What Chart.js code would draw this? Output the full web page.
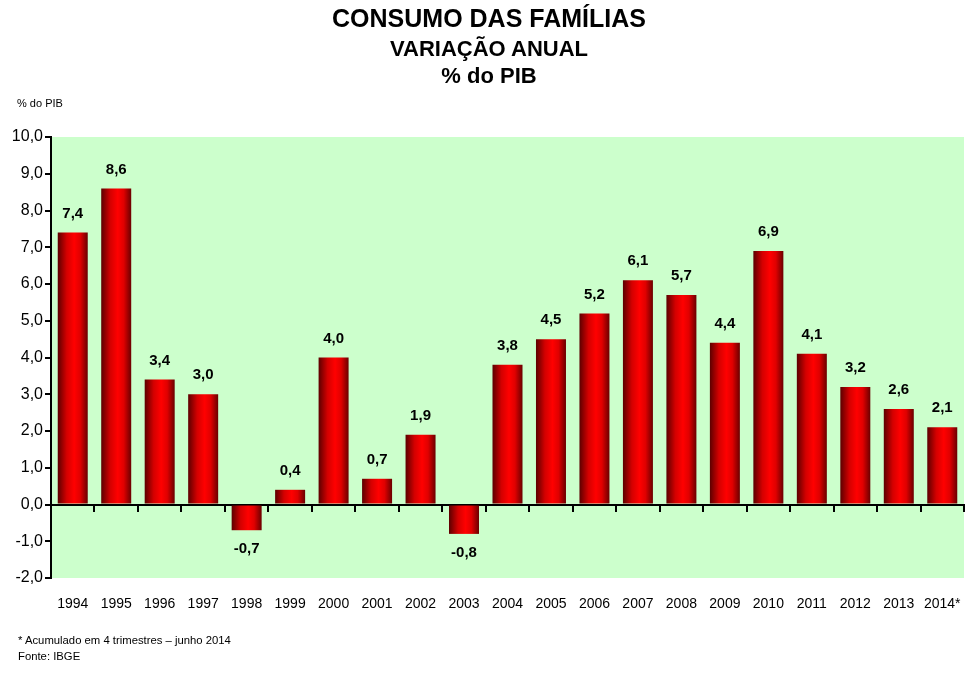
<!DOCTYPE html>
<html>
<head>
<meta charset="utf-8">
<script src="https://cdn.jsdelivr.net/npm/chart.js@4.4.1/dist/chart.umd.min.js"></script>
<style>
  body { margin: 0; background: #fff; }
  #wrap { position: relative; width: 972px; height: 682px; font-family: "Liberation Sans", Arial, sans-serif; }
  .t { position: absolute; left: 0; width: 972px; text-align: center; font-weight: bold; color: #000; }
  .s { position: absolute; color: #000; white-space: nowrap; }
</style>
</head>
<body>
<div id="wrap">
  <canvas id="myChart" width="972" height="682"></canvas>
  <div class="t" style="top:4px; font-size:25px; left:3px;">CONSUMO DAS FAMÍLIAS</div>
  <div class="t" style="top:36px; font-size:22px; left:3px;">VARIAÇÃO ANUAL</div>
  <div class="t" style="top:63px; font-size:22px; left:3px;">% do PIB</div>
  <div class="s" style="left:17px; top:97px; font-size:11px;">% do PIB</div>
  <div class="s" style="left:18px; top:634px; font-size:11.3px;">* Acumulado em 4 trimestres – junho 2014</div>
  <div class="s" style="left:18px; top:650px; font-size:11.3px;">Fonte: IBGE</div>
</div>
<script>
var years = ['1994', '1995', '1996', '1997', '1998', '1999', '2000', '2001', '2002', '2003', '2004',
             '2005', '2006', '2007', '2008', '2009', '2010', '2011', '2012', '2013', '2014*'];
var consumo = [7.4, 8.6, 3.4, 3.0, -0.7, 0.4, 4.0, 0.7, 1.9, -0.8, 3.8,
               4.5, 5.2, 6.1, 5.7, 4.4, 6.9, 4.1, 3.2, 2.6, 2.1];
var yMin = -2;
var yMax = 10;

function fmt(v) {
    return v.toFixed(1).replace('.', ',');
}

// gradiente horizontal em cada barra
function barColor(context) {
    var chart = context.chart;
    if (!chart.chartArea) return '#e00000';
    var x = chart.scales.x;
    var w = (x.getPixelForValue(1) - x.getPixelForValue(0)) * 0.69;
    var cx = x.getPixelForValue(context.dataIndex);
    var g = chart.ctx.createLinearGradient(cx - w / 2, 0, cx + w / 2, 0);
    g.addColorStop(0, '#5c0000');
    g.addColorStop(0.3, '#d40000');
    g.addColorStop(0.55, '#ff0000');
    g.addColorStop(0.75, '#e00000');
    g.addColorStop(1, '#6a0000');
    return g;
}

function noPad(scale) {
    scale.paddingLeft = 0;
    scale.paddingRight = 0;
}

var valueLabels = {
    id: 'valueLabels',
    afterDatasetsDraw: function(chart) {
        var ctx = chart.ctx;
        var meta = chart.getDatasetMeta(0);
        ctx.save();
        ctx.font = 'bold 15px "Liberation Sans", Arial, sans-serif';
        ctx.fillStyle = '#000';
        ctx.textAlign = 'center';
        ctx.textBaseline = 'middle';
        meta.data.forEach(function(bar, i) {
            var v = consumo[i];
            var y = v >= 0 ? bar.y - 19 : bar.y + 19;
            ctx.fillText(fmt(v), bar.x, y);
        });
        ctx.restore();
    }
};

var greenBg = {
    id: 'greenBg',
    beforeDraw: function(chart) {
        var a = chart.chartArea;
        chart.ctx.save();
        chart.ctx.fillStyle = '#ccffcc';
        chart.ctx.fillRect(a.left, a.top, a.right - a.left, a.bottom - a.top);
        chart.ctx.restore();
    }
};

var ctx = document.getElementById("myChart").getContext("2d");
var myChart = new Chart(ctx, {
    type: 'bar',
    data: {
        labels: years,
        datasets: [{
            data: consumo,
            backgroundColor: barColor,
            borderWidth: 0,
            categoryPercentage: 1,
            barPercentage: 0.69
        }]
    },
    options: {
        responsive: false,
        animation: false,
        layout: { padding: { left: 9, right: 8, top: 137, bottom: 64 } },
        plugins: {
            legend: { display: false },
            tooltip: { enabled: false }
        },
        scales: {
            x: {
                position: 'bottom',
                grid: { display: false, drawTicks: false },
                border: { display: false },
                ticks: {
                    padding: 18,
                    color: '#000',
                    maxRotation: 0,
                    autoSkip: false,
                    font: { family: '"Liberation Sans", Arial', size: 14 }
                },
                afterFit: function(scale) { scale.height = 40; noPad(scale); }
            },
            x0: {
                type: 'category',
                labels: years,
                position: { y: 0 },
                offset: true,
                grid: { offset: true, drawOnChartArea: false, drawTicks: true, tickLength: 6, color: '#000', lineWidth: 2 },
                border: { display: true, color: '#000', width: 2 },
                ticks: { display: false },
                afterFit: noPad
            },
            y: {
                min: yMin,
                max: yMax,
                ticks: {
                    stepSize: 1,
                    padding: 2,
                    color: '#000',
                    font: { family: '"Liberation Sans", Arial', size: 16 },
                    callback: function(v) { return fmt(v); }
                },
                grid: { drawOnChartArea: false, drawTicks: true, tickLength: 6, color: '#000', lineWidth: 2 },
                border: { display: true, color: '#000', width: 2 },
                afterFit: function(scale) { scale.width = 42; }
            }
        }
    },
    plugins: [greenBg, valueLabels]
});
</script>
</body>
</html>
